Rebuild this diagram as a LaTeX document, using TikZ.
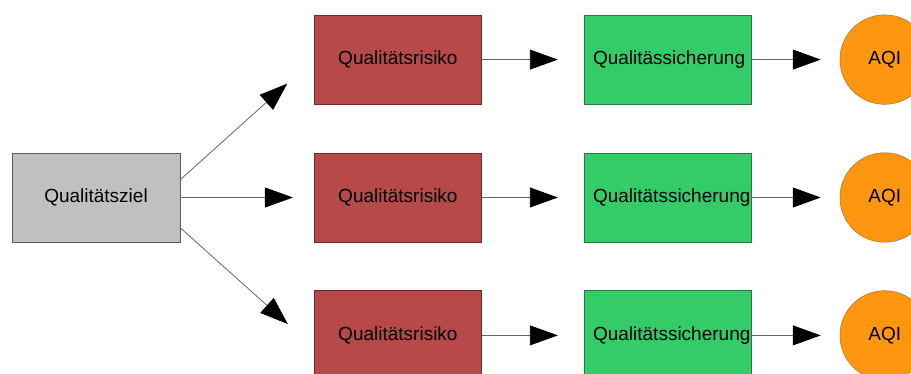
\documentclass[tikz,border=0pt]{standalone}
\usepackage{fontspec}
\setmainfont{Liberation Sans}
\usetikzlibrary{arrows.meta,positioning}

\definecolor{zielgrau}{RGB}{192,192,192}
\definecolor{risikorot}{RGB}{184,73,73}
\definecolor{risikorand}{RGB}{110,42,42}
\definecolor{sicherungsgruen}{RGB}{52,204,104}
\definecolor{sicherungsrand}{RGB}{40,120,66}
\definecolor{aqiorange}{RGB}{255,150,16}
\definecolor{aqirand}{RGB}{165,95,30}

\begin{document}
\begin{tikzpicture}[>={Triangle[length=28pt,width=20pt,color=black,fill=black]},
  font=\fontsize{19pt}{23pt}\selectfont,
  box/.style={draw=black!65,minimum width=167.5pt,minimum height=89.5pt,inner sep=0pt},
  ziel/.style={box,fill=zielgrau},
  risiko/.style={box,draw=risikorand,fill=risikorot},
  sicherung/.style={box,draw=sicherungsrand,fill=sicherungsgruen,text width=149.5pt,inner xsep=9pt,align=left},
  aqi/.style={circle,draw=aqirand,fill=aqiorange,minimum size=89.5pt,inner sep=0pt},
  pfeil/.style={->,color=black!60,line width=0.8pt}]

\useasboundingbox (0,0) rectangle (911pt,-374pt);
\clip (0,0) rectangle (911pt,-374pt);

\node[ziel]      (ziel) at (96pt,-197.5pt)  {Qualitätsziel};
 \node[risiko]   (r2) [right=134pt of ziel]  {Qualitätsrisiko};
 \node[risiko]   (r1) [above=48pt of r2]     {Qualitätsrisiko};
 \node[risiko]   (r3) [below=48pt of r2]     {Qualitätsrisiko};
	\node[sicherung] (s1) [right=102pt of r1] {Qualitässicherung};
	\node[sicherung] (s2) [right=102pt of r2] {Qualitätssicherung};
	\node[sicherung] (s3) [right=102pt of r3] {Qualitätssicherung};
	\node[aqi]       (a1) [right=88pt of s1]  {AQI};
	\node[aqi]       (a2) [right=88pt of s2]  {AQI};
	\node[aqi]       (a3) [right=88pt of s3]  {AQI};

	\path[pfeil] ([yshift=17.5pt]ziel.east) edge[shorten >=36pt] (r1.west)
					(ziel) edge[shorten >=21pt] (r2)
					([yshift=-30pt]ziel.east) edge[shorten >=35pt] ([yshift=-12pt]r3.west)

				(r1) edge[shorten >=26pt] (s1)
				(r2) edge[shorten >=26pt] (s2)
				(r3) edge[shorten >=26pt] (s3)

					(s1) edge[shorten >=19pt] (a1)
					(s2) edge[shorten >=19pt] (a2)
					(s3) edge[shorten >=19pt] (a3);

\end{tikzpicture}
\end{document}
